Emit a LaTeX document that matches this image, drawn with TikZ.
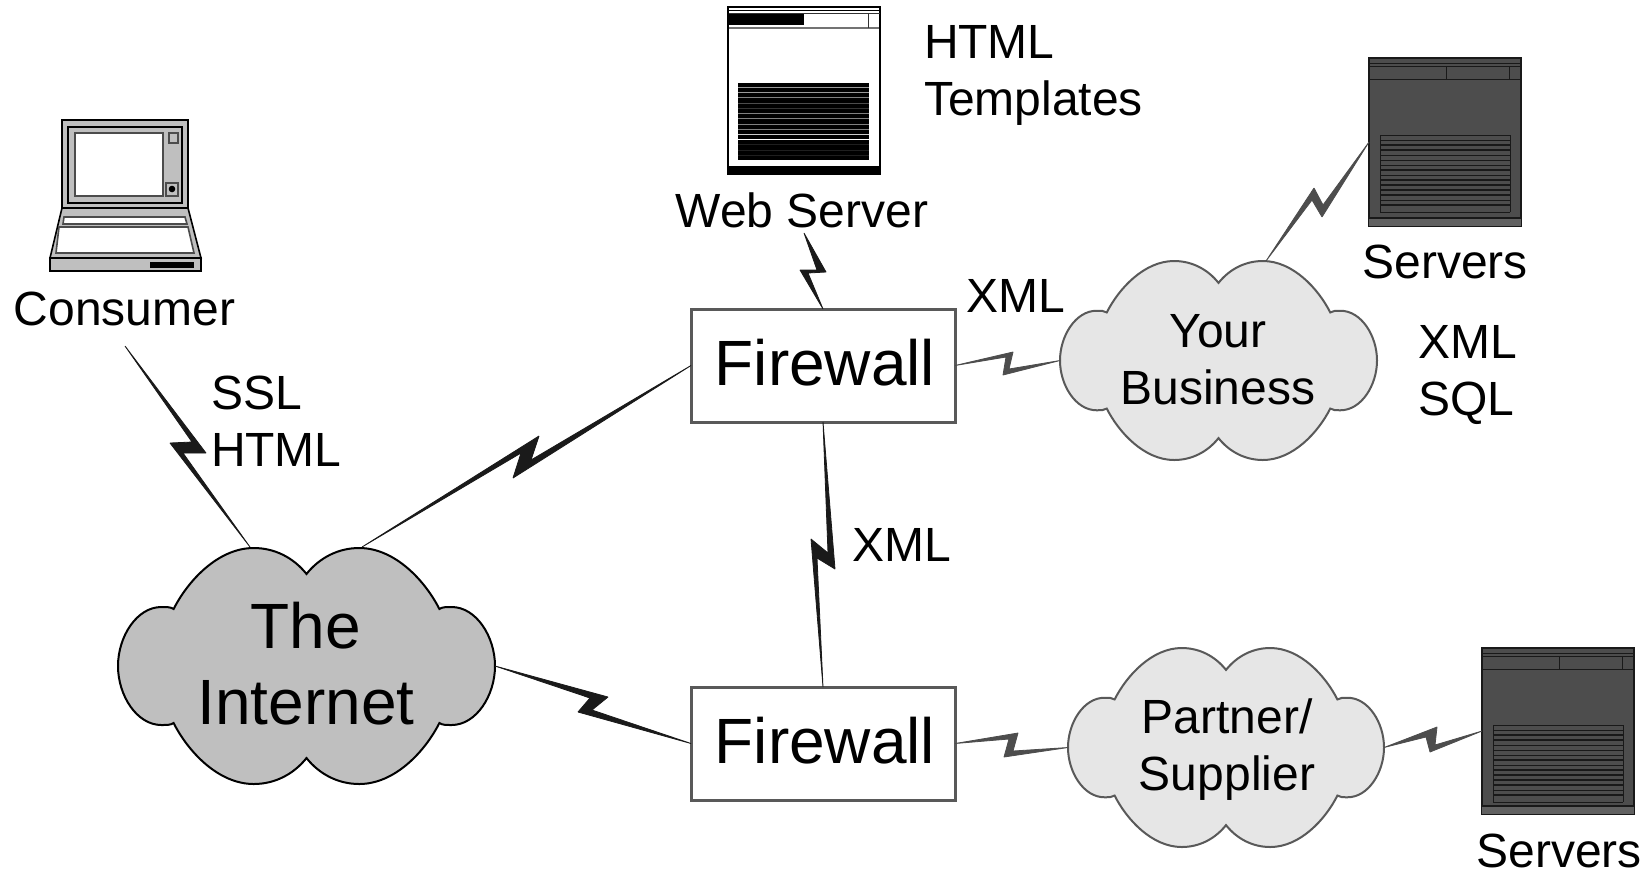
\documentclass[tikz,border=0pt]{standalone}
\usepackage{fontspec}
\setmainfont{Liberation Sans}
\newcommand{\fnorm}{\fontsize{24pt}{28.5pt}\selectfont}
\newcommand{\fbig}{\fontsize{32pt}{38pt}\selectfont}
\definecolor{cloudline}{HTML}{595959}
\definecolor{cloudlight}{HTML}{E6E6E6}
\definecolor{cloudmid}{HTML}{BFBFBF}
\definecolor{boltdark}{HTML}{1A1A1A}
\definecolor{boltgray}{HTML}{4D4D4D}
\definecolor{serverdark}{HTML}{4D4D4D}
\tikzset{
  lbl/.style={inner sep=0pt,outer sep=0pt,font=\fnorm,text=black},
  biglbl/.style={inner sep=0pt,outer sep=0pt,font=\fbig,text=black},
  firewallbox/.style={draw=cloudline,fill=white,line width=1.5pt,inner sep=0pt,outer sep=0pt,
    minimum width=132pt,minimum height=56.5pt,font=\fbig,text height=22.5pt,text depth=3pt},
  boltblack/.style={fill=boltdark,draw=boltdark,line width=.4pt,line join=bevel},
  boltgrey/.style={fill=boltgray,draw=boltgray,line width=.4pt,line join=bevel},
  iconline/.style={draw=black,line width=.8pt},
  lapfill/.style={draw=black,fill=cloudmid,line width=.8pt},
  lapwhite/.style={draw=black!70,fill=white,line width=.8pt},
}
% unit cloud outline
\newcommand{\cloudoutline}{(0,-.78) .. controls (.07,-.92) and (.17,-1) .. (.28,-1)
 .. controls (.47,-1) and (.63,-.72) .. (.705,-.483)
 .. controls (.72,-.5) and (.74,-.5) .. (.77,-.5)
 .. controls (.9,-.5) and (1,-.25) .. (1,0)
 .. controls (1,.25) and (.9,.5) .. (.77,.5)
 .. controls (.74,.5) and (.72,.5) .. (.705,.483)
 .. controls (.63,.72) and (.47,1) .. (.28,1)
 .. controls (.17,1) and (.07,.92) .. (0,.78)
 .. controls (-.07,.92) and (-.17,1) .. (-.28,1)
 .. controls (-.47,1) and (-.63,.72) .. (-.705,.483)
 .. controls (-.72,.5) and (-.74,.5) .. (-.77,.5)
 .. controls (-.9,.5) and (-1,.25) .. (-1,0)
 .. controls (-1,-.25) and (-.9,-.5) .. (-.77,-.5)
 .. controls (-.74,-.5) and (-.72,-.5) .. (-.705,-.483)
 .. controls (-.63,-.72) and (-.47,-1) .. (-.28,-1)
 .. controls (-.17,-1) and (-.07,-.92) .. (0,-.78) -- cycle}
% name, cx, cy, hw, hh, fill, stroke
\newcommand{\cloudat}[7]{%
  \begin{scope}[shift={(#2,#3)},xscale=#4,yscale=#5]
    \path[fill=#6,draw=#7,line width=1pt] \cloudoutline;
  \end{scope}
  \node[rectangle,inner sep=0pt,outer sep=0pt,minimum width=#4pt,minimum height=#5pt] (#1) at (#2,#3) {};
}
% name, left, top, height
\newcommand{\darkserver}[4]{%
  \node[rectangle,draw=black!90,fill=serverdark,line width=.8pt,inner sep=0pt,outer sep=0pt,
    minimum width=76pt,minimum height=#4*0.5pt,anchor=north west] (#1) at (#2,#3) {};
  \begin{scope}[shift={(#2,#3)}]
    \fill[black!62] (0,#4-8) rectangle (152,#4);
    \draw[black!90,line width=.7pt] (0,#4-8) -- (152,#4-8);
    \draw[black!90,line width=.5pt] (0,5) -- (152,5) (0,8) -- (152,8) (0,21) -- (152,21)
       (77,8) -- (77,21) (140,8) -- (140,21);
    \foreach \yy/\ww in {77/.5,82/.5,87/.7,92/1,97/.5,102/.5,107/.5,112/.7,117/.5,122/.7,127/.7,132/.7,137/.7,142/.5,147/.7,154/.5}
      \draw[black!90,line width=\ww pt] (11,\yy) -- (141,\yy);
    \draw[black!90,line width=.4pt] (11,77) -- (11,154) (141,77) -- (141,154);
  \end{scope}
}
\begin{document}
\begin{tikzpicture}[x=0.5pt,y=-0.5pt]
\useasboundingbox (0,0) rectangle (1648,875);
\fill[white] (0,0) rectangle (1648,875);

% ---- laptop ----
\node[rectangle,lapfill,inner sep=0pt,outer sep=0pt,minimum width=63pt,minimum height=44pt,anchor=north west] (laptop) at (62,120) {};
\draw[iconline,line width=.7pt] (68,127) rectangle (182,203);
\path[lapwhite] (75,133) rectangle (163,196);
\path[draw=black!70,fill=cloudmid,line width=.6pt] (169,133) rectangle (178,143);
\path[draw=black!70,fill=cloudmid,line width=.6pt] (166,183) rectangle (178,196);
\fill[black] (172,189) circle (3.3);
\path[lapfill] (62,208) -- (188,208) -- (201,258) -- (50,258) -- cycle;
\path[lapwhite] (64,217) -- (185,217) -- (187,224) -- (63,224) -- cycle;
\path[lapwhite] (59,227) -- (188,227) -- (194,253) -- (56,253) -- cycle;
\path[lapfill] (50,258) rectangle (201,271);
\fill[black] (150,262) rectangle (194,268);

% ---- web server ----
\node[rectangle,draw=black,fill=white,line width=1pt,inner sep=0pt,outer sep=0pt,minimum width=76pt,minimum height=83.5pt,anchor=north west] (webserver) at (728,7) {};
\fill[black] (728,166) rectangle (880,174);
\draw[black,line width=.8pt] (729,10.5) -- (880,10.5);
\draw[black!80,line width=.5pt] (729,13) -- (880,13);
\fill[black] (729,14) rectangle (804,25);
\draw[black!55,line width=.7pt] (729,28) -- (879,28);
\draw[black!80,line width=.5pt] (868,14) -- (868,28);
\fill[black] (738,83) rectangle (869,160);
\foreach \yy/\ww in {87.3/60,92.7/60,97.3/50,103.3/30,108.3/20,113.3/50,118.3/50,124/50,129/50,134.3/80,139.3/100,144.3/12,150/12,155/12}
  \draw[white!\ww!black,line width=.5pt] (738,\yy) -- (869,\yy);

% ---- servers ----
\darkserver{serverA}{1369}{58}{168}
\darkserver{serverB}{1482}{648}{166}

% ---- firewalls ----
\node[firewallbox] (fwA) at (823,365.5) {\hspace*{2pt}Firewall};
\node[firewallbox] (fwB) at (823,743.5) {\hspace*{2pt}Firewall};

% ---- clouds ----
\cloudat{inet}{306.5}{666}{188.5}{118}{cloudmid}{black}
\cloudat{biz}{1218.5}{360.5}{158.5}{99.5}{cloudlight}{cloudline}
\cloudat{partner}{1226}{747.5}{158}{99.5}{cloudlight}{cloudline}

% ---- texts (multi-line nodes: base anchor is the last line) ----
\node[lbl,anchor=base] (consumerlbl) at (124.5,325.5) {Consumer};
\node[lbl,anchor=base] (weblbl) at (802,227) {Web Server};
\node[lbl,anchor=base] (serverAlbl) at (1445,278) {Servers};
\node[lbl,anchor=base] (serverBlbl) at (1559,867.5) {Servers};
\node[lbl,anchor=base west] (xmlA) at (966,312) {XML};
\node[lbl,anchor=base west] (xmlB) at (852,561.5) {XML};
\node[lbl,anchor=base west,align=left] (htmllbl) at (924,115.5) {HTML\\Templates};
\node[lbl,anchor=base west,align=left] (ssllbl) at (211,466.5) {SSL\\HTML};
\node[lbl,anchor=base west,align=left] (xmlsql) at (1418,415.5) {XML\\SQL};
\node[lbl,anchor=base,align=center] (biztext) at (1218,404) {Your\\Business};
\node[lbl,anchor=base,align=center] (partnertext) at (1227,790.5) {Partner/\\Supplier};
\node[biglbl,anchor=base,align=center] (inettext) at (306,724) {The\\Internet};

% ---- free connector ends ----
\coordinate (consumerEnd) at (125,346);
\coordinate (webEnd) at (804,233);
\coordinate (inetTopL) at (250,547);
\coordinate (inetTopR) at (362,547);
\coordinate (bizTop) at (1266,261);

% ---- connectors ----
\path[boltblack] (consumerEnd) -- (206,453) -- (183,453) -- (inetTopL) -- (170,443) -- (192,442) -- cycle;
\path[boltblack] (inetTopR) -- (539,436) -- (531,460) -- (fwA.west) -- (513,478) -- (521,453) -- cycle;
\path[boltblack] (inet.east) -- (608,697) -- (592,710) -- (fwB.west) -- (578,712) -- (590,698) -- cycle;
\path[boltblack] (webEnd) -- (826,272) -- (808,273) -- (fwA.north) -- (800,270) -- (817,270) -- cycle;
\path[boltblack] (fwA.south) -- (835,569) -- (817,558) -- (fwB.north) -- (811,539) -- (828,553) -- cycle;
\path[boltgrey] (fwA.east) -- (1013,352) -- (1009,369) -- (biz.west) -- (1003,375) -- (1006,357) -- cycle;
\path[boltgrey] (fwB.east) -- (1018,733) -- (1013,751) -- (partner.west) -- (1004,757) -- (1009,739) -- cycle;
\path[boltgrey] (bizTop) -- (1314,188) -- (1323,205) -- (serverA.west) -- (1322,217) -- (1312,200) -- cycle;
\path[boltgrey] (partner.east) -- (1437,727) -- (1435,745) -- (serverB.west) -- (1430,752) -- (1426,737) -- cycle;
\end{tikzpicture}
\end{document}
